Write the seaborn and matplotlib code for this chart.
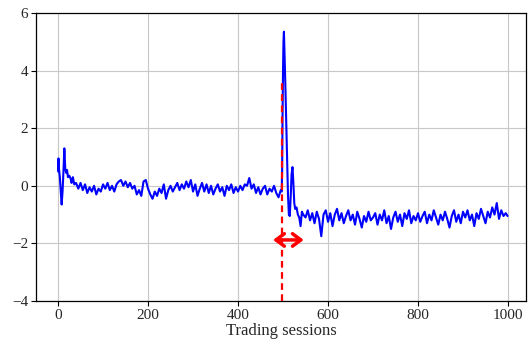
import matplotlib
matplotlib.use("Agg")
import matplotlib.pyplot as plt
import seaborn as sns
import numpy as np
import pandas as pd

# ---- data ----
early_sessions = [0, 1, 2, 4, 6, 8, 10, 12, 14, 16, 18, 20, 22, 25, 28, 30, 33, 36, 40, 45, 50]
early_values = [0.5, 0.95, 0.6, 0.3, -0.2, -0.65, -0.2, 0.5, 1.3, 0.6, 0.45, 0.55, 0.3, 0.35,
                0.25, 0.1, 0.3, 0.05, 0.1, -0.1, 0.1]

pre_sessions = list(range(55, 500, 5))
pre_values = [
    -0.15, 0.05, -0.25, -0.05, -0.2, 0.0, -0.3, -0.1, -0.2, 0.05,
    -0.1, 0.1, -0.15, 0.0, -0.2, 0.05, 0.15, 0.2, 0.0, 0.15,
    -0.05, 0.1, -0.1, 0.0, -0.3, -0.15, -0.35, 0.15, 0.2, -0.1,
    -0.3, -0.45, -0.2, -0.35, -0.1, -0.25, 0.05, -0.45, -0.15, 0.0,
    -0.2, -0.05, 0.1, -0.15, 0.05, -0.1, 0.15, -0.05, 0.2, -0.2,
    0.05, -0.35, -0.1, 0.1, -0.2, 0.05, -0.25, 0.0, -0.3, -0.1,
    0.05, -0.2, -0.05, -0.35, 0.0, -0.15, 0.05, -0.25, -0.05, -0.2,
    0.0, -0.15, 0.05, 0.0, 0.27, -0.1, 0.05, -0.25, -0.05, -0.3,
    -0.1, 0.0, -0.3, -0.1, -0.2, 0.0, -0.25, -0.4, -0.15,
]

spike_sessions = [497, 498, 499, 500, 501, 502, 503, 505, 507, 509, 511, 513, 515, 517,
                  519, 521, 523, 525, 527, 530, 533, 536, 539, 542, 545]
spike_values = [-0.2, 0.5, 2.5, 4.0, 5.0, 5.35, 4.8, 3.6, 2.3, 1.0, -0.3, -1.0, -1.05, -0.4,
                0.4, 0.65, 0.1, -0.6, -0.8, -0.75, -1.0, -1.1, -1.4, -0.9, -1.0]

post_sessions = list(range(550, 1000, 5)) + [999]
post_values = [
    -1.1, -0.85, -1.2, -0.95, -1.3, -0.9, -1.15, -1.75, -1.0, -0.85,
    -1.25, -0.95, -1.4, -1.0, -0.8, -1.2, -0.95, -1.3, -1.05, -0.85,
    -1.2, -1.0, -1.35, -0.9, -1.15, -1.45, -1.05, -1.25, -0.9, -1.2,
    -1.1, -0.95, -1.35, -1.0, -1.2, -0.85, -1.3, -1.05, -1.5, -1.1,
    -0.9, -1.25, -1.0, -1.4, -0.95, -1.15, -0.85, -1.3, -1.05, -1.2,
    -0.95, -1.25, -1.05, -0.9, -1.3, -1.0, -1.2, -0.85, -1.1, -1.35,
    -1.0, -1.2, -0.9, -1.15, -1.45, -1.05, -0.85, -1.25, -1.0, -1.3,
    -0.9, -1.1, -0.85, -1.2, -1.0, -1.4, -0.95, -1.15, -0.8, -1.05,
    -1.3, -0.9, -1.1, -0.75, -1.0, -0.6, -1.15, -0.85, -1.05, -0.95,
    -1.05,
]

break_session = 497
break_top = 3.62
arrow_left, arrow_right, arrow_y = 478, 546, -1.88

x_ticks = [0, 200, 400, 600, 800, 1000]
y_ticks = [-4, -2, 0, 2, 4, 6]

sessions = early_sessions + pre_sessions + spike_sessions + post_sessions
values = early_values + pre_values + spike_values + post_values
df = pd.DataFrame({"session": sessions, "value": values})

# ---- plot ----
sns.set_style("ticks")
plt.rcParams["font.family"] = ["Liberation Serif", "DejaVu Serif"]

fig = plt.figure(figsize=(5.28, 3.42), dpi=100)
ax = fig.add_axes([36 / 528, 41 / 342, 490 / 528, 288 / 342])

sns.lineplot(data=df, x="session", y="value", ax=ax, color="#0000ff",
             linewidth=1.5, estimator=None, sort=False)

ax.plot([break_session, break_session], [-4, break_top], color="red",
        linestyle=(0, (3, 2)), linewidth=1.6, zorder=3)
ax.annotate("", xy=(arrow_left, arrow_y), xytext=(arrow_right, arrow_y),
            arrowprops=dict(arrowstyle="<->,head_length=0.6,head_width=0.45",
                            color="red", lw=2.5, shrinkA=0, shrinkB=0))

ax.set_xlim(-49, 1040)
ax.set_ylim(-4, 6)
ax.set_xticks(x_ticks)
ax.set_yticks(y_ticks)
ax.grid(True, color="#c8c8c8", linewidth=0.8)
ax.set_axisbelow(True)
for s in ax.spines.values():
    s.set_color("black")
    s.set_linewidth(0.9)
ax.tick_params(labelsize=11, length=3.5, width=0.8, color="black", pad=2)
ax.set_xlabel("Trading sessions", fontsize=12, labelpad=1)
ax.set_ylabel("")

fig.savefig("out.png", dpi=100)
